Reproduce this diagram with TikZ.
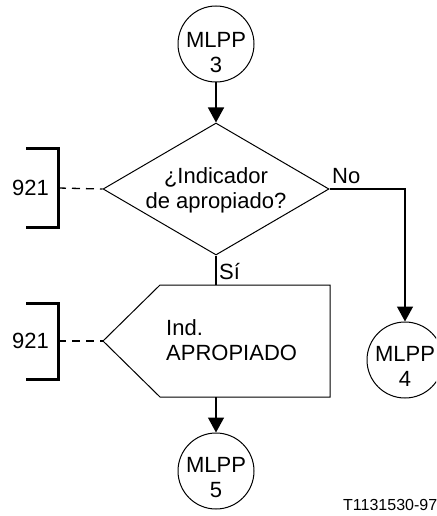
\documentclass[tikz,border=0pt]{standalone}
\usepackage{fontspec}
\setmainfont{Liberation Sans}
\usetikzlibrary{arrows.meta,shapes.geometric}
\begin{document}
\begin{tikzpicture}[x=1pt,y=-1pt,
  flow/.style={line width=1.4pt,-{Triangle[length=15pt,width=16pt]}},
  plain/.style={line width=1.2pt},
  refline/.style={line width=1.3pt,dash pattern=on 8pt off 6pt},
  bracket/.style={line width=3pt},
  conn/.style={circle,draw,line width=1pt,minimum size=76pt,inner sep=0pt},
  lbl/.style={font=\fontsize{22}{25}\selectfont,inner sep=0pt},
  small/.style={font=\fontsize{16}{19}\selectfont,inner sep=0pt}]
\useasboundingbox (0,0) rectangle (436,516);
\clip (0,0) rectangle (436,516);

% connectors (off-page references)
\node[conn] (c3) at (216,44) {};
\node[lbl,align=center] (t3) at (216,52.5) {MLPP\\3};
\node[conn] (c4) at (405,360) {};
\node[lbl,align=center] (t4) at (405,366.5) {MLPP\\4};
\node[conn] (c5) at (216,471) {};
\node[lbl,align=center] (t5) at (216,477.5) {MLPP\\5};

% decision
\node[diamond,draw,line width=1pt,minimum width=226pt,minimum height=132pt,inner sep=0pt] (dec) at (216,189) {};
\node[lbl,align=center] (dect) at (216,190) {¿Indicador\\de apropiado?};

% output signal box
\coordinate (pTL) at (160,285);
\coordinate (pTR) at (330,285);
\coordinate (pBR) at (330,397);
\coordinate (pBL) at (160,397);
\coordinate (pW) at (103,341);
\coordinate (pN) at (216,285);
\coordinate (pS) at (216,397);
\draw[line width=1pt,line join=miter] (pW) -- (pTL) -- (pTR) -- (pBR) -- (pBL) -- cycle;
\node[lbl,align=left,anchor=west] (sig) at (166,340) {Ind.\\APROPIADO};

% references to 921
\coordinate (b1) at (58,188);
\coordinate (b2) at (58,341);
\draw[bracket] (26,148) -- (58,148) -- (58,227) -- (26,227);
\draw[bracket] (26,303) -- (58,303) -- (58,379) -- (26,379);
\node[lbl,anchor=east] (r1) at (49,188) {921};
\node[lbl,anchor=east] (r2) at (49,341) {921};
\draw[refline] (b1) -- (dec.west);
\draw[refline] (b2) -- (pW);

% flow lines
\draw[flow] (c3.south) -- (dec.north);
\draw[flow] (dec.east) -| (c4.north);
\draw[plain] (dec.south) -- (pN);
\draw[flow] (pS) -- (c5.north);

% branch labels
\node[lbl,anchor=base west] (no) at (332,183) {No};
\node[lbl,anchor=base west] (si) at (219,279) {Sí};

\node[small,anchor=base west] (id) at (343,510) {T1131530-97};
\end{tikzpicture}
\end{document}
